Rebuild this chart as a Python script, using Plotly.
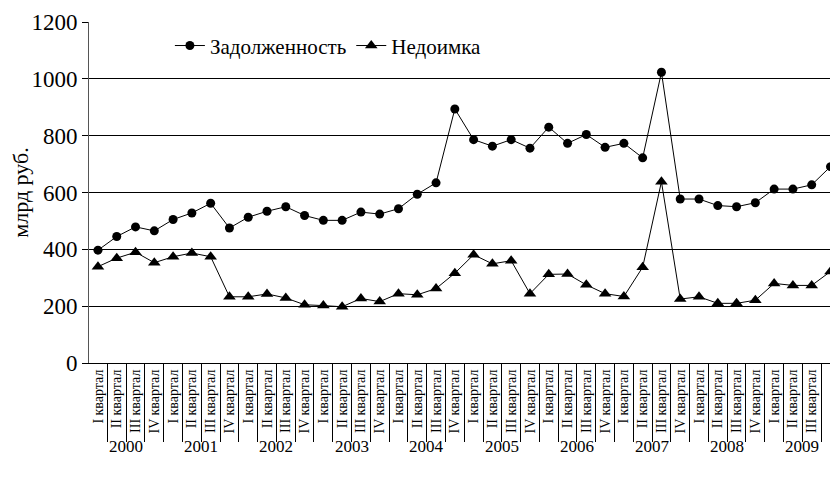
import plotly.graph_objects as go

years = ["2000", "2001", "2002", "2003", "2004", "2005", "2006", "2007", "2008", "2009"]
quarter_names = ["I квартал", "II квартал", "III квартал", "IV квартал"]
quarters = [q for _ in years for q in quarter_names]

zadolzhennost = [397, 445, 479, 465, 505, 528, 562, 475, 513, 534,
                 550, 519, 502, 502, 531, 524, 543, 594, 634, 894,
                 786, 763, 786, 756, 830, 773, 804, 759, 773, 722,
                 1023, 577, 577, 554, 550, 564, 612, 612, 627, 691]
nedoimka = [339, 369, 390, 353, 374, 387, 374, 233, 233, 243,
            229, 205, 202, 198, 227, 216, 244, 240, 262, 316,
            381, 349, 360, 244, 312, 313, 275, 244, 234, 337,
            638, 225, 233, 210, 210, 221, 280, 273, 273, 322]

x = list(range(len(quarters)))
font_family = "Liberation Serif"

fig = go.Figure()
fig.add_trace(go.Scatter(
    x=x, y=zadolzhennost, mode="lines+markers", name="Задолженность",
    line=dict(color="black", width=1),
    marker=dict(symbol="circle", size=9, color="black"),
    cliponaxis=False,
))
fig.add_trace(go.Scatter(
    x=x, y=nedoimka, mode="lines+markers", name="Недоимка",
    line=dict(color="black", width=1),
    marker=dict(symbol="triangle-up", size=11, color="black"),
    cliponaxis=False,
))

for i, yr in enumerate(years):
    fig.add_annotation(
        x=i * 4 + 1.5, y=-0.246, xref="x", yref="paper",
        text=yr, showarrow=False, yanchor="middle",
        font=dict(size=17, color="black", family=font_family),
    )

# page body has an 8px margin; size the figure so the plot lands where the reference has it
fig.update_layout(
    width=830, height=473,
    margin=dict(l=78, r=0, t=14, b=118),
    paper_bgcolor="white", plot_bgcolor="white",
    font=dict(family=font_family, color="black"),
    showlegend=True,
    legend=dict(
        orientation="h", x=0.108, y=0.93, xanchor="left", yanchor="middle",
        font=dict(size=21, family=font_family, color="black"),
        bgcolor="rgba(0,0,0,0)", itemwidth=30,
    ),
    xaxis=dict(
        range=[-0.477, 39.4],
        tickmode="array", tickvals=x, ticktext=quarters,
        tickangle=-90, ticks="",
        tickfont=dict(size=14, family=font_family, color="black"),
        showgrid=False, zeroline=False,
        showline=True, linecolor="black", linewidth=1,
        minor=dict(
            tickmode="array",
            tickvals=[i - 0.5 for i in range(len(quarters) + 1)],
            ticks="outside", ticklen=78, tickcolor="black", tickwidth=1,
            showgrid=False,
        ),
    ),
    yaxis=dict(
        range=[0, 1200], tickmode="array",
        tickvals=[0, 200, 400, 600, 800, 1000, 1200],
        ticks="outside", ticklen=6, tickcolor="black",
        tickfont=dict(size=23, family=font_family, color="black"),
        showgrid=True, gridcolor="black", gridwidth=1,
        zeroline=False,
        showline=True, linecolor="#555", linewidth=1,
        title=dict(text="млрд руб.", font=dict(size=22, family=font_family, color="black"), standoff=8),
    ),
)

fig.write_html("out.html")
